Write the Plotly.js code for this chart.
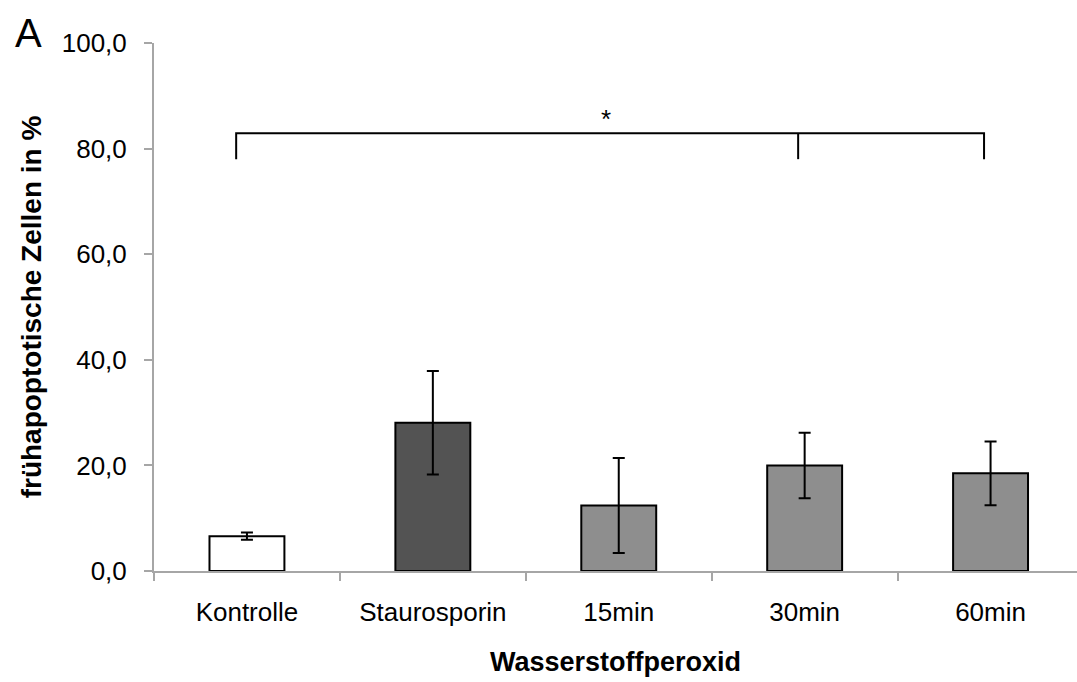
<!DOCTYPE html>
<html>
<head>
<meta charset="utf-8">
<script src="https://cdn.plot.ly/plotly-3.0.1.min.js"></script>
<style>html,body{margin:0;padding:0;background:#fff;}#chart{width:1077px;height:682px;}</style>
</head>
<body>
<div id="chart"></div>
<script>
const categories = ["Kontrolle", "Staurosporin", "15min", "30min", "60min"];
const values = [6.6, 28.1, 12.4, 20.0, 18.5];
const errors = [0.67, 9.8, 9.0, 6.2, 6.05];
const barColors = ["#ffffff", "#535353", "#8e8e8e", "#8e8e8e", "#8e8e8e"];
const yTicks = [0, 20, 40, 60, 80, 100];
const yTickLabels = ["0,0", "20,0", "40,0", "60,0", "80,0", "100,0"];
// significance bracket (category index positions, y values)
const bracketX = [-0.058, -0.058, 3.965, 3.965];
const bracketY = [78.0, 82.9, 82.9, 78.0];
const bracketMidX = [2.965, 2.965];
const bracketMidY = [82.9, 78.0];
const starX = 1.93;
const starY = 85.6;

const FONT = "Liberation Sans, Arial, sans-serif";

const trace = {
  type: "bar",
  x: categories,
  y: values,
  width: 0.403,
  marker: {color: barColors, line: {color: "#000", width: 2}},
  error_y: {type: "data", array: errors, visible: true, color: "#000", thickness: 2, width: 6},
  hoverinfo: "skip"
};

function pathFrom(xs, ys) {
  return xs.map((x, i) => (i === 0 ? "M" : "L") + x + "," + ys[i]).join(" ");
}

const shapes = [
  {type: "path", xref: "x", yref: "y", path: pathFrom(bracketX, bracketY), line: {color: "#000", width: 2}},
  {type: "path", xref: "x", yref: "y", path: pathFrom(bracketMidX, bracketMidY), line: {color: "#000", width: 2}}
];

const layout = {
  width: 1077, height: 682,
  margin: {l: 154, r: 0, t: 43, b: 111},
  paper_bgcolor: "#fff", plot_bgcolor: "#fff",
  showlegend: false,
  font: {family: FONT, color: "#000", size: 26},
  shapes: shapes,
  xaxis: {
    type: "category",
    range: [-0.5, 4.465],
    showline: true, linecolor: "#a6a6a6", linewidth: 2,
    ticks: "outside", ticklen: 8, tickcolor: "#a6a6a6", tickwidth: 2,
    tickson: "boundaries",
    showgrid: false, zeroline: false,
    tickfont: {family: FONT, size: 26, color: "#000"},
    ticklabelstandoff: 17,
    title: {text: "<b>Wasserstoffperoxid</b>", font: {family: FONT, size: 27, color: "#000"}, standoff: 26}
  },
  yaxis: {
    range: [0, 100],
    tickvals: yTicks, ticktext: yTickLabels,
    showline: true, linecolor: "#a6a6a6", linewidth: 2,
    ticks: "outside", ticklen: 8, tickcolor: "#a6a6a6", tickwidth: 2,
    showgrid: false, zeroline: false,
    tickfont: {family: FONT, size: 26, color: "#000"},
    ticklabelstandoff: 12,
    title: {text: "<b>frühapoptotische Zellen in %</b>", font: {family: FONT, size: 28, color: "#000"}, standoff: 12}
  },
  annotations: [
    {x: starX, y: starY, xref: "x", yref: "y", text: "*", showarrow: false,
     font: {family: FONT, size: 26, color: "#000"}, xanchor: "center", yanchor: "middle"},
    {x: (28 - 154) / (1077 - 154), y: (682 - 111 - 33) / (682 - 154), xref: "paper", yref: "paper",
     text: "A", showarrow: false, xanchor: "center", yanchor: "middle",
     font: {family: FONT, size: 40, color: "#000"}}
  ]
};

Plotly.newPlot("chart", [trace], layout, {staticPlot: true});
</script>
</body>
</html>
